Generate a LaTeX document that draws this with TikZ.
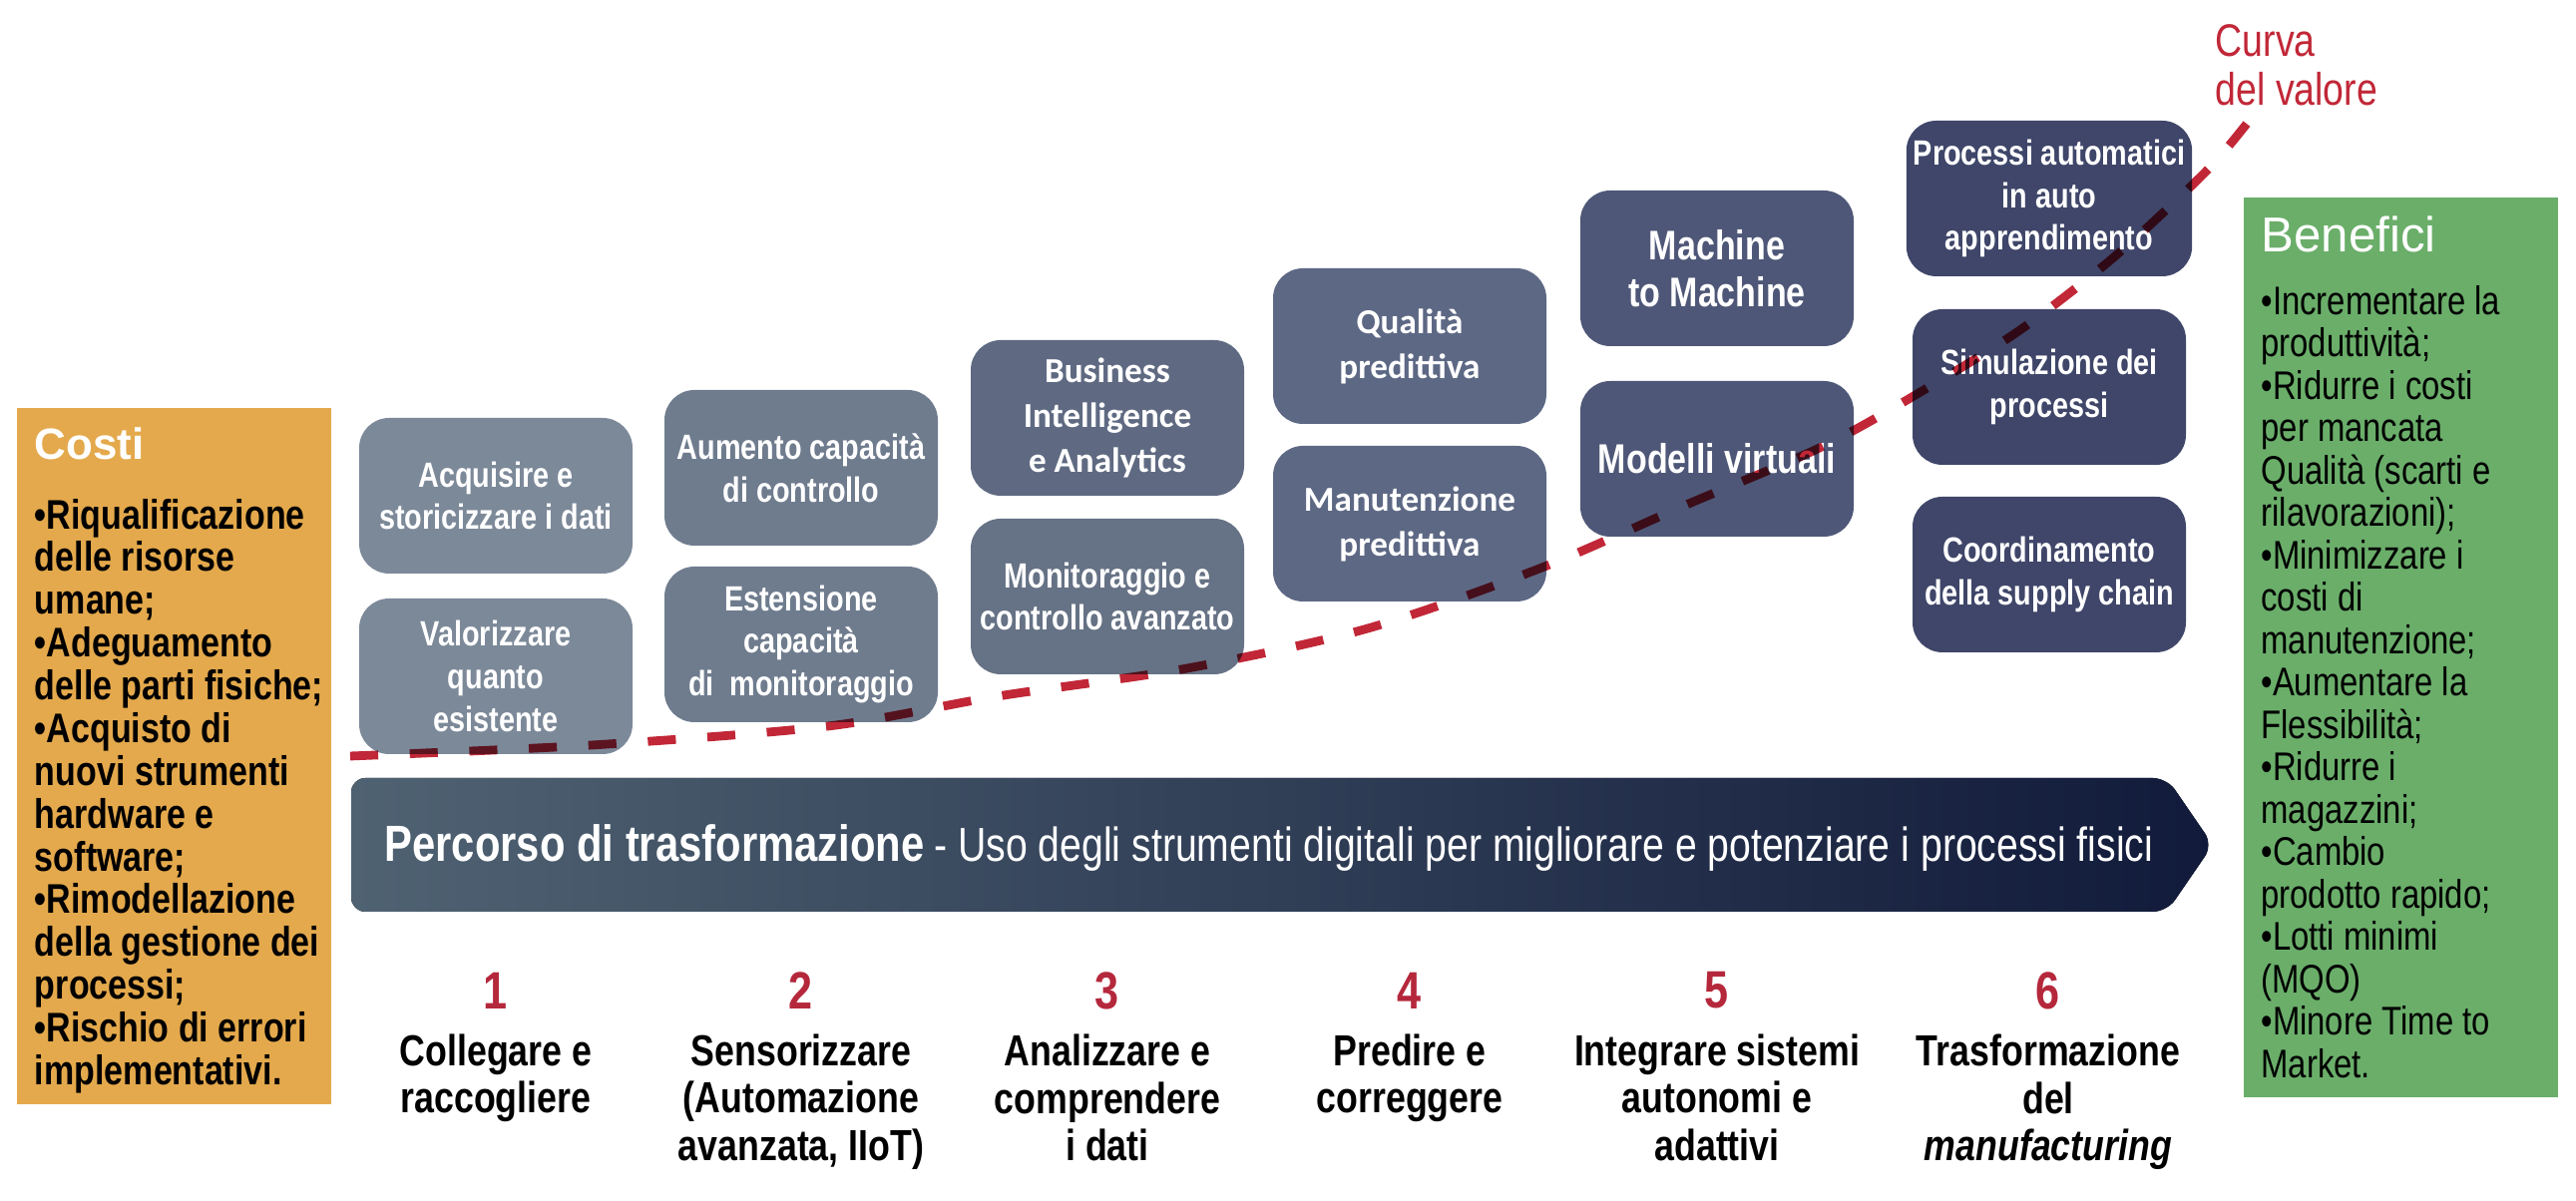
\documentclass[tikz,border=0pt]{standalone}
\usepackage{fontspec}
\setmainfont{Liberation Sans}
\newfontfamily\narrowsf[FakeStretch=0.82]{Liberation Sans}
\newfontfamily\calibrisf{Carlito}
\usetikzlibrary{positioning, calc}

\definecolor{costiorange}{HTML}{E4A94C}
\definecolor{benefgreen}{HTML}{6AAE6A}
\definecolor{valred}{HTML}{C12737}
\definecolor{stepred}{HTML}{B5283C}
\definecolor{colA}{HTML}{7C8999}
\definecolor{colB}{HTML}{6F7C8E}
\definecolor{colC}{HTML}{5F6A82}
\definecolor{colCm}{HTML}{667285}
\definecolor{colD}{HTML}{5D6884}
\definecolor{colE}{HTML}{4E5777}
\definecolor{colF}{HTML}{3F4669}
\definecolor{arrowL}{HTML}{4F6272}
\definecolor{arrowR}{HTML}{111A3A}

\begin{document}
\begin{tikzpicture}[
  techbox/.style={rounded corners=0.3cm, minimum width=2.74cm, minimum height=1.56cm,
    align=center, text=white, inner sep=2pt,
    font=\narrowsf\bfseries\fontsize{10}{12.2}\selectfont},
  bigbox/.style={techbox, font=\narrowsf\bfseries\fontsize{11.8}{13.5}\selectfont},
  calbox/.style={techbox, font=\calibrisf\bfseries\fontsize{10}{12.8}\selectfont},
  sidebox/.style={minimum width=3.15cm, inner sep=0pt},
  sidehead/.style={text=white, anchor=west, inner sep=0pt},
  sidelist/.style={align=left, anchor=north west, inner sep=0pt},
  stepnum/.style={text=stepred, inner sep=0pt, font=\narrowsf\bfseries\fontsize{15}{15}\selectfont},
  steplbl/.style={align=center, inner sep=0pt, font=\narrowsf\bfseries\fontsize{12.4}{13.5}\selectfont},
  valcurve/.style={draw=valred, line width=2.5pt, dash pattern=on 8pt off 9pt}
]
  \useasboundingbox (0,0) rectangle (25.82,12.04);

  % costi / benefici
  \node[sidebox, fill=costiorange, minimum height=6.98cm] (costi) at (1.745,4.46) {};
  \node[sidebox, fill=benefgreen, minimum height=9.02cm] (benef) at (24.06,5.55) {};
  \node[sidehead, font=\bfseries\fontsize{12.5}{14}\selectfont] (costiT)
    at ($(costi.north west)+(0.18,-0.37)$) {Costi};
  \node[sidelist, font=\narrowsf\bfseries\fontsize{11.8}{12.2}\selectfont] (costiL)
    at ($(costi.north west)+(0.18,-0.91)$)
    {•Riqualificazione\\delle risorse\\umane;\\•Adeguamento\\delle parti fisiche;\\
     •Acquisto di\\nuovi strumenti\\hardware e\\software;\\•Rimodellazione\\
     della gestione dei\\processi;\\•Rischio di errori\\implementativi.};
  \node[sidehead, font=\fontsize{14}{16}\selectfont] (benefT)
    at ($(benef.north west)+(0.18,-0.38)$) {Benefici};
  \node[sidelist, font=\narrowsf\fontsize{11.4}{12.1}\selectfont] (benefL)
    at ($(benef.north west)+(0.18,-0.88)$)
    {•Incrementare la\\produttività;\\•Ridurre i costi\\per mancata\\Qualità (scarti e\\
     rilavorazioni);\\•Minimizzare i\\costi di\\manutenzione;\\•Aumentare la\\
     Flessibilità;\\•Ridurre i\\magazzini;\\•Cambio\\prodotto rapido;\\
     •Lotti minimi\\(MQO)\\•Minore Time to\\Market.};

  % tools
  \node[techbox, fill=colA] (acq) at (4.97,7.07) {Acquisire e\\storicizzare i dati};
  \node[techbox, fill=colA] (valo) at (4.97,5.26) {Valorizzare\\quanto\\esistente};
  \node[techbox, fill=colB] (aum) at (8.03,7.35) {Aumento capacità\\di controllo};
  \node[techbox, fill=colB] (est) at (8.03,5.58) {Estensione\\capacità\\di\ \ monitoraggio};
  \node[calbox, fill=colC] (bi) at (11.10,7.85) {Business\\Intelligence\\e Analytics};
  \node[techbox, fill=colCm] (mon) at (11.10,6.06) {Monitoraggio e\\controllo avanzato};
  \node[calbox, fill=colD] (qual) at (14.13,8.57) {Qualità\\predittiva};
  \node[calbox, fill=colD] (manu) at (14.13,6.79) {Manutenzione\\predittiva};
  \node[bigbox, fill=colE] (mtm) at (17.21,9.35) {Machine\\to Machine};
  \node[bigbox, fill=colE] (virt) at (17.21,7.44) {Modelli virtuali};
  \node[techbox, fill=colF] (auto) at (20.54,10.05) {Processi automatici\\in auto\\apprendimento};
  \node[techbox, fill=colF] (simu) at (20.54,8.16) {Simulazione dei\\processi};
  \node[techbox, fill=colF] (supp) at (20.54,6.28) {Coordinamento\\della supply chain};

  % curva del valore
  \draw[valcurve, blend mode=multiply] plot[smooth, tension=0.5] coordinates {
    (3.51,4.46) (5.93,4.57) (8.30,4.76) (10.00,5.06) (11.90,5.34) (13.71,5.74)
    (15.43,6.34) (16.88,6.97) (18.28,7.57) (19.30,8.14) (20.26,8.74) (21.21,9.48)
    (22.10,10.31) (22.52,10.80)};
  \node[align=left, anchor=north west, inner sep=0pt, text=valred,
    font=\narrowsf\fontsize{13}{14}\selectfont] (curva) at (22.20,11.80) {Curva\\del valore};

  % percorso
  \fill[left color=arrowL, right color=arrowR, rounded corners=4pt]
    (3.52,2.90) -- (3.52,4.24) -- (21.72,4.24) -- (22.18,3.57) -- (21.72,2.90) -- cycle;
  \node[text=white, inner sep=0pt] (percorso) at (12.72,3.54)
    {{\narrowsf\bfseries\fontsize{14.5}{16}\selectfont Percorso di trasformazione}
     {\narrowsf\fontsize{13.6}{15}\selectfont - Uso degli strumenti digitali per migliorare e potenziare i processi fisici}};

  % fasi
  \foreach \x/\k/\txt in {4.97/1/{Collegare e\\raccogliere},
      8.03/2/{Sensorizzare\\(Automazione\\avanzata, IIoT)},
      11.10/3/{Analizzare e\\comprendere\\i dati},
      14.13/4/{Predire e\\correggere},
      17.21/5/{Integrare sistemi\\autonomi e\\adattivi},
      20.53/6/{Trasformazione\\del\\\textit{manufacturing}}} {
    \node[stepnum] (n\k) at (\x,2.11) {\k};
    \node[steplbl, below=0.24cm of n\k] (l\k) {\txt};
  }
\end{tikzpicture}
\end{document}
